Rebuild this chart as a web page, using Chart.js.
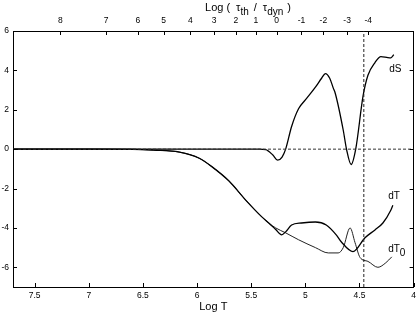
<!DOCTYPE html>
<html>
<head>
<meta charset="utf-8">
<script src="https://cdn.jsdelivr.net/npm/chart.js@4/dist/chart.umd.min.js"></script>
<style>
  html, body { margin: 0; padding: 0; background: #fff; }
</style>
</head>
<body>
<canvas id="chart" width="420" height="316"></canvas>
<script>
// Log T (x axis, reversed) and the three curves
var logT_S = [7.7, 5.6, 5.42, 5.366, 5.30, 5.256, 5.215, 5.182, 5.127, 5.063, 5.0, 4.907, 4.85, 4.815, 4.775, 4.742, 4.724, 4.65, 4.62, 4.577, 4.535, 4.467, 4.422, 4.357, 4.302, 4.238, 4.21, 4.183];
var dS     = [0,   0,   0,    -0.02, -0.3, -0.56, -0.4,  0,     1.15,  2.05,  2.5,  3.15,  3.6,  3.84,  3.6,   3.1,   2.84,  0.96, 0,    -0.78, 0,     2.7,   3.75,  4.4,   4.7,   4.65,  4.64, 4.8];

var logT_T = [7.7, 7.0, 6.6, 6.4, 6.163, 5.98, 5.861, 5.705, 5.549, 5.402, 5.338, 5.274, 5.219, 5.182, 5.127, 5.036, 4.907, 4.807, 4.715, 4.669, 4.56, 4.449, 4.357, 4.284, 4.211, 4.192];
var dT     = [0,   0,   -0.01, -0.05, -0.15, -0.46, -0.9, -1.62, -2.6, -3.44, -3.75, -4.08, -4.35, -4.2, -3.85, -3.75, -3.7, -3.85, -4.35, -4.7, -5.2, -4.5, -4.1, -3.75, -3.1, -2.85];

var logT_T0 = [7.7, 7.0, 6.6, 6.4, 6.163, 5.98, 5.861, 5.705, 5.549, 5.402, 5.338, 5.274, 5.182, 5.063, 4.907, 4.788, 4.697, 4.65, 4.587, 4.541, 4.495, 4.422, 4.33, 4.257, 4.202];
var dT0     = [0,   0,   -0.01, -0.05, -0.15, -0.46, -0.9, -1.62, -2.6, -3.44, -3.75, -4.0, -4.25, -4.6, -5.0, -5.27, -5.27, -5.0, -4.0, -4.75, -5.5, -5.7, -6.0, -5.77, -5.47];

var markLogT = 4.46; // dashed vertical line

// axis ticks
var xTicks = [7.5, 7, 6.5, 6, 5.5, 5, 4.5, 4];
var yTicks = [-6, -4, -2, 0, 2, 4, 6];
var tauTickPos = [7.263, 6.841, 6.548, 6.31, 6.062, 5.842, 5.641, 5.457, 5.265, 5.036, 4.834, 4.614, 4.42];
var tauLabels = ['8', '7', '6', '5', '4', '3', '2', '1', '0', '-1', '-2', '-3', '-4'];

var FONT = "'Liberation Sans', Arial, Helvetica, sans-serif";

function pts(xs, ys) {
    return xs.map(function (x, i) { return { x: x, y: ys[i] }; });
}

var innerTicks = {
    id: 'innerTicks',
    afterDraw: function (chart) {
        var ctx = chart.ctx;
        var a = chart.chartArea;
        var sx = chart.scales.x, st = chart.scales.x2, sy = chart.scales.y;
        var len = 4;
        ctx.save();
        ctx.strokeStyle = '#000';
        ctx.lineWidth = 1;
        ctx.beginPath();
        sx.ticks.forEach(function (t) {
            var px = Math.round(sx.getPixelForValue(t.value)) + 0.5;
            ctx.moveTo(px, a.bottom); ctx.lineTo(px, a.bottom - len);
        });
        st.ticks.forEach(function (t) {
            var px = Math.round(st.getPixelForValue(t.value)) + 0.5;
            ctx.moveTo(px, a.top); ctx.lineTo(px, a.top + len);
        });
        sy.ticks.forEach(function (t) {
            var py = Math.round(sy.getPixelForValue(t.value)) + 0.5;
            ctx.moveTo(a.left, py); ctx.lineTo(a.left + len, py);
            ctx.moveTo(a.right, py); ctx.lineTo(a.right - len, py);
        });
        ctx.stroke();

        // top axis title with subscripts
        ctx.fillStyle = '#000';
        ctx.textBaseline = 'middle';
        ctx.textAlign = 'left';
        var main = '11px ' + FONT, sub = '10px ' + FONT;
        var parts = [
            ['Log (', main, 0, 6], ['\u03c4', main, 0, 0], ['th', sub, 4, 5],
            ['/', main, 0, 6], ['\u03c4', main, 0, 0], ['dyn', sub, 4, 4], [')', main, 0, 0]
        ];
        var total = 0;
        parts.forEach(function (p) { ctx.font = p[1]; total += ctx.measureText(p[0]).width + p[3]; });
        var cx = 248 - total / 2;
        parts.forEach(function (p) {
            ctx.font = p[1];
            ctx.fillText(p[0], cx, 8 + p[2]);
            cx += ctx.measureText(p[0]).width + p[3];
        });

        // curve labels
        ctx.font = '10px ' + FONT;
        ctx.fillText('dS', sx.getPixelForValue(4.225), sy.getPixelForValue(4.05));
        ctx.fillText('dT', sx.getPixelForValue(4.235), sy.getPixelForValue(-2.38));
        var lx = sx.getPixelForValue(4.235), ly = sy.getPixelForValue(-5.06);
        ctx.fillText('dT', lx, ly);
        ctx.fillText('0', lx + ctx.measureText('dT').width, ly + 4);
        ctx.restore();
    }
};

var tickFont = { family: FONT, size: 8.5 };
var noGrid = { display: false, drawTicks: false, tickLength: 0 };

new Chart(document.getElementById('chart').getContext('2d'), {
    type: 'line',
    data: {
        datasets: [
            { data: pts([7.7, 4], [0, 0]), borderColor: '#333', borderWidth: 1, borderDash: [3, 2], pointRadius: 0, xAxisID: 'x', yAxisID: 'y' },
            { data: pts([markLogT, markLogT], [-7, 6]), borderColor: '#222', borderWidth: 1, borderDash: [3, 2], pointRadius: 0, xAxisID: 'x', yAxisID: 'y' },
            { label: 'dS', data: pts(logT_S, dS), borderColor: '#000', borderWidth: 1.3, pointRadius: 0, cubicInterpolationMode: 'monotone', xAxisID: 'x', yAxisID: 'y' },
            { label: 'dT', data: pts(logT_T, dT), borderColor: '#000', borderWidth: 1.3, pointRadius: 0, cubicInterpolationMode: 'monotone', xAxisID: 'x', yAxisID: 'y' },
            { label: 'dT0', data: pts(logT_T0, dT0), borderColor: '#222', borderWidth: 1, pointRadius: 0, cubicInterpolationMode: 'monotone', xAxisID: 'x', yAxisID: 'y' }
        ]
    },
    options: {
        responsive: false,
        animation: false,
        plugins: { legend: { display: false }, tooltip: { enabled: false } },
        layout: { padding: 0 },
        scales: {
            x: {
                type: 'linear', position: 'bottom', reverse: true, min: 4, max: 7.7,
                afterBuildTicks: function (s) { s.ticks = xTicks.map(function (v) { return { value: v }; }); },
                afterFit: function (s) { s.height = 29; },
                grid: noGrid,
                border: { display: true, color: '#000', width: 1 },
                ticks: { font: tickFont, color: '#000', padding: 4, maxRotation: 0, autoSkip: false,
                    callback: function (v) { return String(v); } },
                title: { display: true, text: 'Log T', font: { family: FONT, size: 11 }, color: '#000', padding: { top: 0, bottom: 2 } }
            },
            x2: {
                type: 'linear', position: 'top', reverse: true, min: 4, max: 7.7,
                afterBuildTicks: function (s) { s.ticks = tauTickPos.map(function (v) { return { value: v }; }); },
                afterFit: function (s) { s.height = 31; },
                grid: noGrid,
                border: { display: true, color: '#000', width: 1 },
                ticks: {
                    font: tickFont, color: '#000', padding: 5, maxRotation: 0, autoSkip: false,
                    callback: function (v, i) { return tauLabels[i]; }
                }
            },
            y: {
                type: 'linear', position: 'left', min: -7, max: 6,
                afterBuildTicks: function (s) { s.ticks = yTicks.map(function (v) { return { value: v }; }); },
                afterFit: function (s) { s.width = 13; },
                grid: noGrid,
                border: { display: true, color: '#000', width: 1 },
                ticks: { font: tickFont, color: '#000', padding: 4 }
            },
            y2: {
                type: 'linear', position: 'right', min: -7, max: 6,
                afterFit: function (s) { s.width = 4; },
                grid: noGrid,
                border: { display: true, color: '#000', width: 1 },
                ticks: { display: false }
            }
        }
    },
    plugins: [innerTicks]
});
</script>
</body>
</html>
